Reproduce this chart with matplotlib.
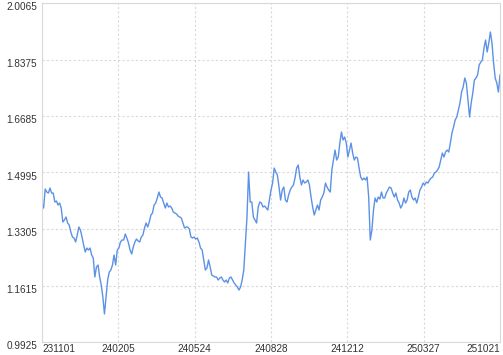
import numpy as np
import matplotlib
matplotlib.use("Agg")
import matplotlib.pyplot as plt
from matplotlib.transforms import ScaledTranslation

# Net value series (evenly spaced trading points)
values = [
    1.4082, 1.3932, 1.4501, 1.4411, 1.4381, 1.4531, 1.4381, 1.4381, 1.4112, 1.4142,
    1.4022, 1.4082, 1.3932, 1.3514, 1.3574, 1.3664, 1.3484, 1.3424, 1.3215, 1.3065,
    1.3035, 1.2916, 1.3125, 1.3364, 1.3274, 1.3065, 1.2826, 1.2617, 1.2736, 1.2676,
    1.2736, 1.2527, 1.2437, 1.1869, 1.2168, 1.2228, 1.1869, 1.1630, 1.1271, 1.0763,
    1.1271, 1.1779, 1.2019, 1.2078, 1.2228, 1.2527, 1.2228, 1.2676,
    1.2736, 1.2916, 1.2976, 1.2976, 1.3155, 1.3035, 1.2886, 1.2676, 1.2557, 1.2766,
    1.2916, 1.3005, 1.2946, 1.2916, 1.3065, 1.3125, 1.3334, 1.3484, 1.3364, 1.3514,
    1.3723, 1.3783, 1.4022, 1.4082, 1.4232, 1.4411, 1.4262, 1.4232, 1.4082, 1.3932,
    1.4082, 1.3963, 1.3992, 1.3932, 1.3813, 1.3783, 1.3753, 1.3693, 1.3664, 1.3634,
    1.3484, 1.3334, 1.3364, 1.3364, 1.3304, 1.3065, 1.3035, 1.3065, 1.3005, 1.3035,
    1.2916, 1.2736, 1.2676, 1.2378, 1.2078, 1.2138, 1.2378, 1.2168, 1.1929, 1.1899,
    1.1869, 1.1869, 1.1779, 1.1839, 1.1869, 1.1779, 1.1719, 1.1779, 1.1690, 1.1839,
    1.1869, 1.1779, 1.1690, 1.1630, 1.1570, 1.1480, 1.1570, 1.1779, 1.2078, 1.2886,
    1.3664, 1.5009, 1.4112, 1.4112, 1.3664, 1.3574, 1.3484, 1.3963, 1.4112, 1.4082,
    1.3963, 1.3992, 1.3932, 1.3873, 1.4172, 1.4471, 1.4680, 1.5129, 1.5009, 1.4920,
    1.4561, 1.4172, 1.4471, 1.4561, 1.4172, 1.4112, 1.4322, 1.4471, 1.4561, 1.4621,
    1.4830, 1.5129, 1.5219, 1.4860, 1.4621, 1.4770, 1.4680, 1.4710, 1.4770, 1.4621,
    1.4262, 1.3963, 1.3723, 1.3873, 1.4022, 1.3873, 1.4172, 1.4262, 1.4381, 1.4680,
    1.4561, 1.4471, 1.4411, 1.5069, 1.5368, 1.5667, 1.5368, 1.5458, 1.5877, 1.6206,
    1.5967, 1.6057, 1.5877, 1.5458, 1.5667, 1.5877, 1.5578, 1.5368, 1.5458, 1.5428,
    1.5129, 1.4860, 1.4770, 1.4830, 1.4770, 1.4860, 1.4262, 1.2976, 1.3275, 1.3873,
    1.4232, 1.4112, 1.4262, 1.4202, 1.4411, 1.4232, 1.4232, 1.4381, 1.4471, 1.4561,
    1.4531, 1.4381, 1.4262, 1.4381, 1.4172, 1.4082, 1.3932, 1.4022, 1.4232, 1.4082,
    1.4172, 1.4411, 1.4471, 1.4262, 1.4172, 1.4232, 1.4082, 1.4262, 1.4471, 1.4561,
    1.4680, 1.4621, 1.4710, 1.4680, 1.4770, 1.4830, 1.4860, 1.4980, 1.5009, 1.5069,
    1.5159, 1.5368, 1.5577, 1.5458, 1.5608, 1.5667, 1.5608, 1.5877, 1.6176, 1.6355,
    1.6565, 1.6654, 1.6864, 1.7073, 1.7402, 1.7552, 1.7821, 1.7671, 1.7163, 1.6654,
    1.7073, 1.7372, 1.7761, 1.7821, 1.7911, 1.8210, 1.8300, 1.8359, 1.8719, 1.8958,
    1.8599, 1.8868, 1.9197, 1.8868, 1.8270, 1.7821, 1.7671, 1.7402, 1.7911,
]

x_labels = ["231101", "240205", "240524", "240828", "241212", "250327", "251021"]
y_ticks = [0.9925, 1.1615, 1.3305, 1.4995, 1.6685, 1.8375, 2.0065]

W, H = 503, 355
fig = plt.figure(figsize=(W / 100, H / 100), dpi=100)
ax = fig.add_axes([42 / W, 13 / H, 458 / W, 339 / H])

n = len(values)
x = np.arange(n)
ax.plot(x, values, color="#5b92e5", linewidth=1.0)

ax.set_xlim(0, n - 1)
ax.set_ylim(y_ticks[0], y_ticks[-1])

xt = np.linspace(0, n - 1, len(x_labels))
ax.set_xticks(xt)
ax.set_xticklabels(x_labels)
ax.set_yticks(y_ticks)
ax.set_yticklabels([f"{v:.4f}" for v in y_ticks])

ax.tick_params(axis="x", length=0, pad=1.5)
ax.tick_params(axis="y", length=0, pad=3.5)

font = "Liberation Sans"
for lab in ax.get_xticklabels() + ax.get_yticklabels():
    lab.set_fontfamily(font)
    lab.set_fontsize(7.2)
    lab.set_color("#333333")
xl = ax.get_xticklabels()
xl[0].set_horizontalalignment("left")
xl[-1].set_horizontalalignment("right")
shift = ScaledTranslation(0, -3 / 100, fig.dpi_scale_trans)
for lab in ax.get_yticklabels():
    lab.set_transform(lab.get_transform() + shift)

ax.grid(True, color="#d9d9d9", linestyle=(0, (2, 2)), linewidth=0.8)
ax.set_axisbelow(True)
for s in ax.spines.values():
    s.set_color("#d9d9d9")
    s.set_linewidth(0.8)

fig.savefig("out.png", dpi=100)
